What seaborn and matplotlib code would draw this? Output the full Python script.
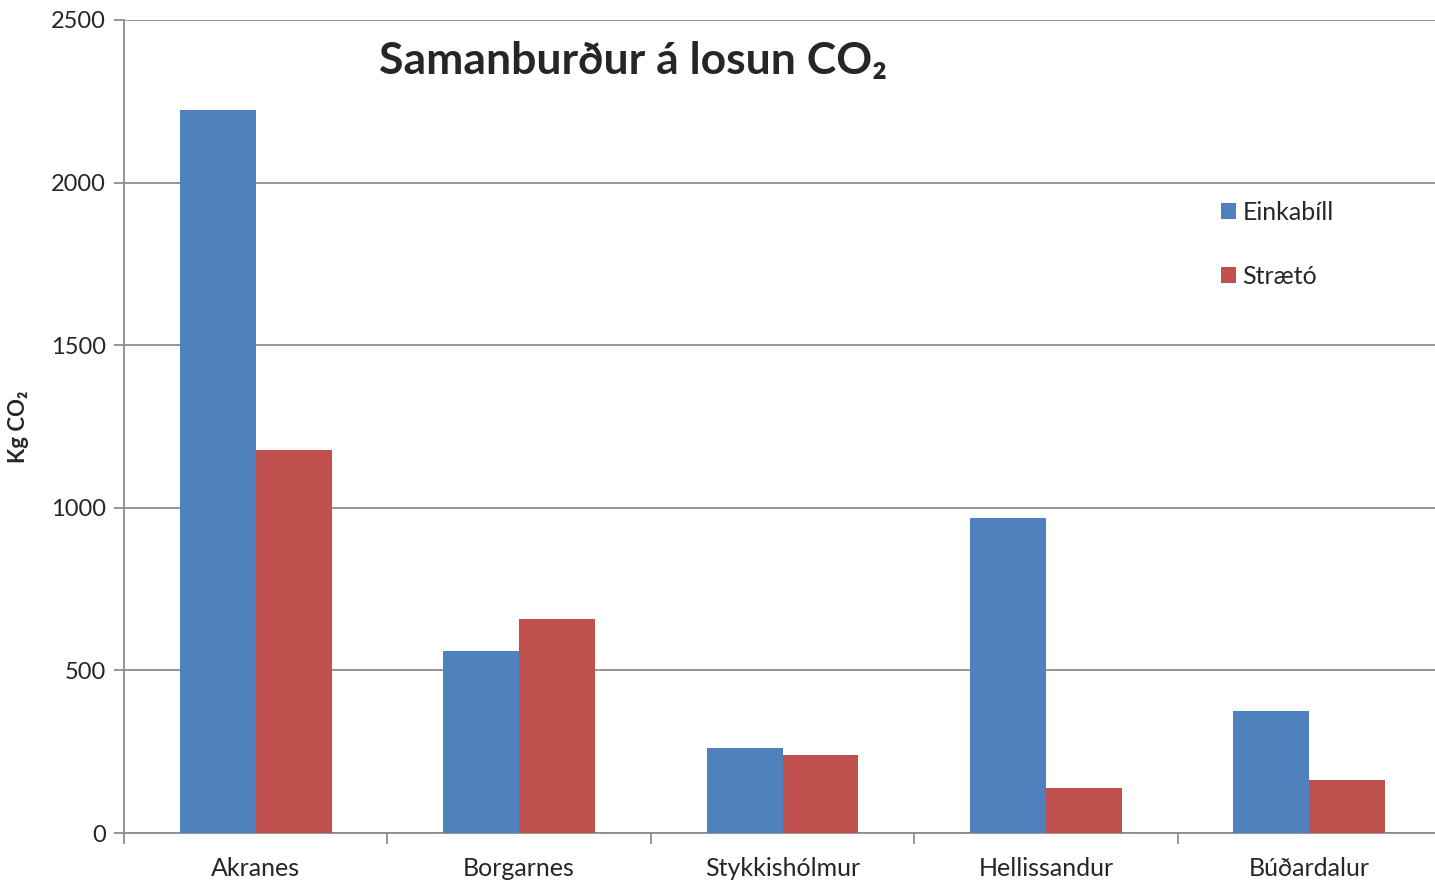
import pandas as pd
import seaborn as sns
import matplotlib
import matplotlib.pyplot as plt

matplotlib.use("Agg")

# Gögn lesin af myndinni
stadir = ["Akranes", "Borgarnes", "Stykkishólmur", "Hellissandur", "Búðardalur"]
einkabill = [2223, 560, 261, 969, 375]
straeto = [1178, 658, 240, 138, 163]
y_ticks = [0, 500, 1000, 1500, 2000, 2500]

df = pd.DataFrame(
    {
        "stadur": stadir * 2,
        "losun": einkabill + straeto,
        "tegund": ["Einkabíll"] * len(stadir) + ["Strætó"] * len(stadir),
    }
)

sns.set_style("white")
plt.rcParams["font.family"] = ["Lato", "DejaVu Sans"]

fig = plt.figure(figsize=(14.35, 8.81), dpi=100)
# teiknisvæðið nær aðeins út fyrir hægri brún, eins og í frummyndinni
ax = fig.add_axes([124 / 1435, 1 - 833 / 881, 1317 / 1435, 813 / 881])

sns.barplot(
    data=df,
    x="stadur",
    y="losun",
    hue="tegund",
    palette=["#4F81BD", "#C0504D"],
    width=0.576,
    saturation=1,
    linewidth=0,
    ax=ax,
    zorder=3,
)

ax.set_ylim(0, 2500)
ax.set_xlim(-0.5, len(stadir) - 0.5)
ax.set_yticks(y_ticks)
ax.yaxis.grid(True, color="#8c8c8c", linewidth=1.3, zorder=0)
ax.set_axisbelow(True)

# flokkamörk sem ticks, nöfn í miðju
ax.set_xticks(range(len(stadir)))
ax.set_xticklabels(stadir, fontsize=18)
ax.tick_params(axis="x", which="major", length=0, pad=17)
ax.set_xticks([i - 0.5 for i in range(len(stadir) + 1)], minor=True)
ax.tick_params(axis="x", which="minor", bottom=True, length=8, width=1.3,
               color="#8c8c8c", direction="out")
ax.tick_params(axis="y", left=True, labelsize=17, length=7, width=1.3,
               color="#8c8c8c", direction="out", pad=6)

for side in ["top", "right"]:
    ax.spines[side].set_visible(False)
for side in ["left", "bottom"]:
    ax.spines[side].set_color("#8c8c8c")
    ax.spines[side].set_linewidth(1.3)

ax.set_xlabel("")
ax.set_ylabel("Kg CO₂", fontsize=16, fontweight="bold", labelpad=16)

ax.text(
    0.194, 0.95, "Samanburður á losun CO₂",
    transform=ax.transAxes, fontsize=32, fontweight="bold", ha="left", va="center",
)

ax.legend(
    loc="upper left",
    bbox_to_anchor=(0.816, 0.805),
    frameon=False,
    fontsize=18,
    handlelength=0.6,
    handleheight=0.6,
    handletextpad=0.25,
    labelspacing=1.62,
)

fig.savefig("out.png", dpi=100)
